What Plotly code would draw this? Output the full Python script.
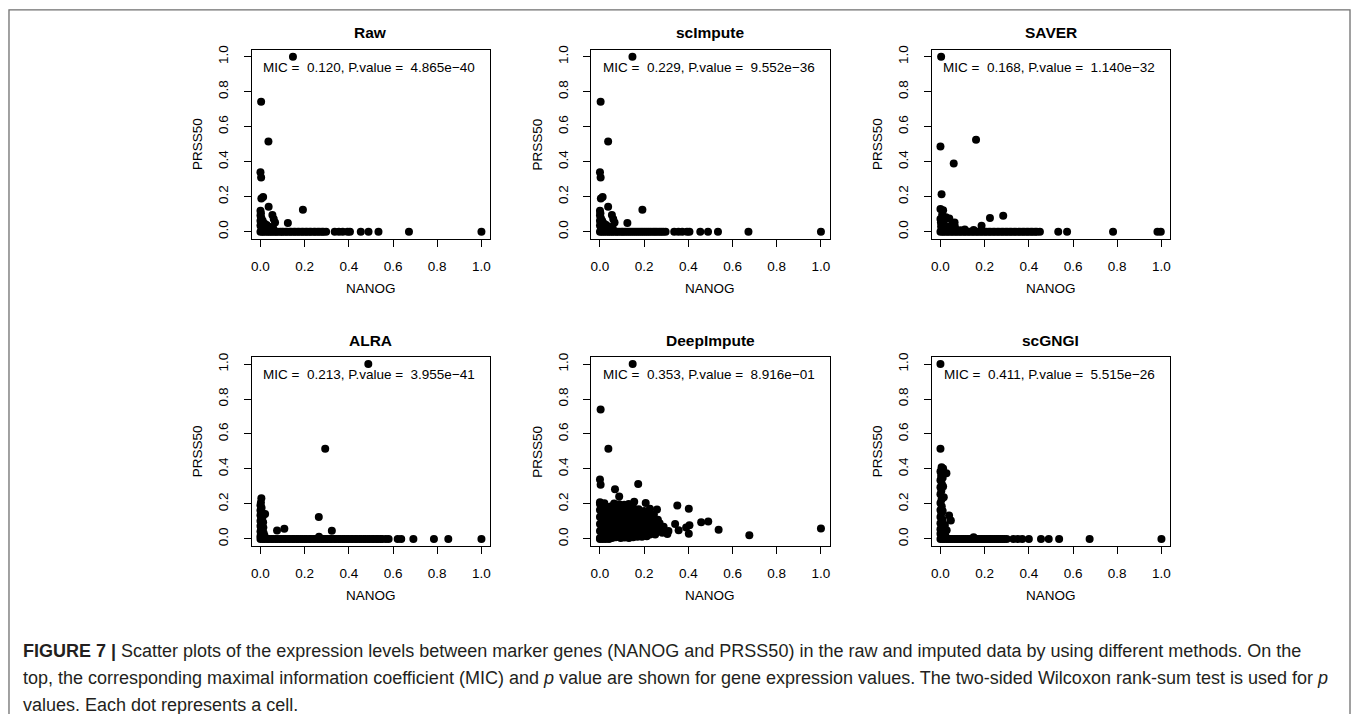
import plotly.graph_objects as go

FONT = "Liberation Sans, Arial, Helvetica, sans-serif"

# ---- data -----------------------------------------------------------------
METHODS = ["Raw", "scImpute", "SAVER", "ALRA", "DeepImpute", "scGNGI"]
MIC = ["0.120", "0.229", "0.168", "0.213", "0.353", "0.411"]
P_VALUES = ["4.865e\u221240", "9.552e\u221236", "1.140e\u221232",
            "3.955e\u221241", "8.916e\u221201", "5.515e\u221226"]
TICKS = [0.0, 0.2, 0.4, 0.6, 0.8, 1.0]
TICK_LABELS = ["0.0", "0.2", "0.4", "0.6", "0.8", "1.0"]

# (NANOG, PRSS50) for cells with non-zero PRSS50
RAW_CELLS = [
    (0.147, 1.000), (0.003, 0.742), (0.036, 0.515), (0.000, 0.340), (0.003, 0.310),
    (0.004, 0.190), (0.012, 0.198), (0.037, 0.142), (0.000, 0.120), (0.192, 0.125),
    (0.054, 0.095), (0.060, 0.072), (0.066, 0.052), (0.124, 0.049),
    (0.000, 0.092), (0.004, 0.078), (0.000, 0.062), (0.008, 0.050), (0.013, 0.040),
    (0.021, 0.030), (0.031, 0.021), (0.000, 0.036), (0.005, 0.024), (0.016, 0.013),
    (0.045, 0.014), (0.010, 0.062), (0.019, 0.046), (0.028, 0.038), (0.040, 0.028),
    (0.058, 0.018), (0.009, 0.010), (0.002, 0.105),
]
# NANOG for cells whose PRSS50 is zero
RAW_ZERO = [
    0.000, 0.009, 0.016, 0.027, 0.035, 0.044, 0.052, 0.061, 0.070, 0.077, 0.088,
    0.096, 0.103, 0.114, 0.121, 0.132, 0.139, 0.150, 0.157, 0.168, 0.175, 0.186,
    0.193, 0.204, 0.211, 0.222, 0.229, 0.241, 0.248, 0.259, 0.267, 0.278, 0.285,
    0.297, 0.336, 0.355, 0.372, 0.394, 0.405, 0.454, 0.489, 0.534, 0.672, 1.000,
]

SCIMPUTE_CELLS = [
    (0.147, 1.000), (0.003, 0.742), (0.037, 0.515), (0.000, 0.340), (0.003, 0.310),
    (0.004, 0.190), (0.012, 0.198), (0.037, 0.142), (0.000, 0.120), (0.192, 0.125),
    (0.054, 0.095), (0.060, 0.072), (0.066, 0.052), (0.124, 0.049),
    (0.000, 0.092), (0.004, 0.078), (0.000, 0.062), (0.008, 0.050), (0.013, 0.040),
    (0.021, 0.030), (0.031, 0.021), (0.000, 0.036), (0.005, 0.024), (0.016, 0.013),
    (0.045, 0.014), (0.010, 0.062), (0.019, 0.046), (0.028, 0.038), (0.040, 0.028),
    (0.058, 0.018), (0.009, 0.010), (0.002, 0.105),
]
SCIMPUTE_ZERO = [
    0.000, 0.008, 0.017, 0.026, 0.036, 0.043, 0.053, 0.060, 0.071, 0.078, 0.087,
    0.097, 0.104, 0.113, 0.122, 0.131, 0.140, 0.149, 0.158, 0.167, 0.176, 0.185,
    0.194, 0.203, 0.212, 0.221, 0.230, 0.240, 0.249, 0.258, 0.268, 0.277, 0.286,
    0.297, 0.336, 0.355, 0.372, 0.394, 0.405, 0.454, 0.489, 0.534, 0.672, 1.000,
]

SAVER_CELLS = [
    (0.003, 1.000), (0.000, 0.487), (0.161, 0.525), (0.060, 0.390), (0.005, 0.214),
    (0.000, 0.130), (0.012, 0.122), (0.224, 0.078), (0.284, 0.091), (0.186, 0.034),
    (0.040, 0.075), (0.064, 0.052), (0.000, 0.072), (0.002, 0.052), (0.012, 0.062),
    (0.008, 0.100), (0.020, 0.036), (0.046, 0.030), (0.030, 0.016), (0.056, 0.022),
    (0.072, 0.010), (0.110, 0.012), (0.150, 0.010), (0.003, 0.030), (0.006, 0.015),
    (0.010, 0.085), (0.025, 0.082), (0.052, 0.040), (0.065, 0.030), (0.090, 0.008),
    (0.017, 0.024),
]
SAVER_ZERO = [
    0.000, 0.010, 0.018, 0.029, 0.037, 0.048, 0.056, 0.067, 0.075, 0.086, 0.094,
    0.105, 0.113, 0.124, 0.132, 0.143, 0.151, 0.162, 0.170, 0.181, 0.189, 0.200,
    0.208, 0.219, 0.227, 0.238, 0.246, 0.257, 0.265, 0.276, 0.284, 0.295, 0.303,
    0.314, 0.322, 0.333, 0.341, 0.352, 0.360, 0.371, 0.379, 0.390, 0.398, 0.409,
    0.417, 0.428, 0.436, 0.450, 0.533, 0.573, 0.781, 0.982, 0.997,
]

ALRA_CELLS = [
    (0.488, 1.000), (0.293, 0.515), (0.264, 0.125), (0.323, 0.047), (0.075, 0.048),
    (0.108, 0.059), (0.004, 0.233), (0.000, 0.192), (0.005, 0.178), (0.000, 0.163),
    (0.007, 0.150), (0.021, 0.142), (0.000, 0.135), (0.004, 0.118), (0.010, 0.128),
    (0.000, 0.102), (0.006, 0.088), (0.012, 0.095), (0.000, 0.074), (0.004, 0.058),
    (0.013, 0.066), (0.000, 0.043), (0.006, 0.030), (0.014, 0.036), (0.000, 0.016),
    (0.010, 0.012), (0.018, 0.020), (0.265, 0.012), (0.002, 0.208),
]
ALRA_ZERO = [
    0.000, 0.011, 0.019, 0.030, 0.038, 0.049, 0.057, 0.068, 0.076, 0.087, 0.095,
    0.106, 0.114, 0.125, 0.133, 0.144, 0.152, 0.163, 0.171, 0.182, 0.190, 0.201,
    0.209, 0.220, 0.228, 0.239, 0.247, 0.258, 0.266, 0.277, 0.285, 0.296, 0.304,
    0.315, 0.323, 0.334, 0.342, 0.353, 0.361, 0.372, 0.380, 0.391, 0.399, 0.410,
    0.418, 0.429, 0.437, 0.448, 0.456, 0.467, 0.475, 0.486, 0.494, 0.505, 0.513,
    0.524, 0.532, 0.543, 0.551, 0.567, 0.580, 0.621, 0.637, 0.692, 0.785, 0.850,
    1.000,
]

DEEPIMPUTE_CELLS = [
    # isolated cells
    (0.148, 1.000), (0.003, 0.740), (0.038, 0.515), (0.000, 0.340), (0.003, 0.310),
    (0.173, 0.314), (0.068, 0.284), (0.087, 0.242), (0.000, 0.210), (0.350, 0.191),
    (0.402, 0.172), (0.207, 0.205), (0.458, 0.095), (0.490, 0.100), (0.537, 0.053),
    (0.676, 0.021), (1.000, 0.060), (0.340, 0.085), (0.356, 0.050), (0.390, 0.065),
    (0.402, 0.030), (0.405, 0.078), (0.270, 0.090), (0.288, 0.070), (0.310, 0.045),
    (0.305, 0.028), (0.282, 0.035), (0.262, 0.110), (0.244, 0.140), (0.130, 0.200),
    (0.155, 0.212), (0.226, 0.172), (0.258, 0.168), (0.162, 0.152),
    (0.178, 0.128), (0.190, 0.146), (0.175, 0.170), (0.200, 0.160), (0.240, 0.120),
    (0.250, 0.095), (0.280, 0.055), (0.265, 0.075), (0.230, 0.035), (0.250, 0.025),
    (0.190, 0.012), (0.212, 0.015), (0.150, 0.180), (0.110, 0.195),
    # dense cluster near the origin
    (0.000, 0.006), (0.018, 0.004), (0.037, 0.008), (0.055, 0.005), (0.072, 0.009),
    (0.094, 0.006), (0.112, 0.008), (0.131, 0.005), (0.150, 0.009), (0.170, 0.012),
    (0.010, 0.026), (0.030, 0.024), (0.048, 0.027), (0.066, 0.023), (0.083, 0.026),
    (0.104, 0.025), (0.122, 0.022), (0.141, 0.027), (0.162, 0.024), (0.183, 0.021),
    (0.205, 0.028), (0.226, 0.025),
    (0.000, 0.046), (0.021, 0.044), (0.040, 0.047), (0.058, 0.043), (0.077, 0.045),
    (0.095, 0.048), (0.116, 0.044), (0.134, 0.046), (0.153, 0.043), (0.174, 0.047),
    (0.195, 0.045), (0.214, 0.042), (0.236, 0.046), (0.257, 0.044), (0.276, 0.047),
    (0.294, 0.043),
    (0.008, 0.066), (0.028, 0.064), (0.046, 0.067), (0.067, 0.065), (0.086, 0.063),
    (0.107, 0.066), (0.125, 0.068), (0.146, 0.064), (0.166, 0.066), (0.185, 0.063),
    (0.204, 0.067), (0.225, 0.065), (0.247, 0.068), (0.268, 0.064),
    (0.000, 0.086), (0.019, 0.084), (0.038, 0.087), (0.057, 0.085), (0.078, 0.083),
    (0.096, 0.086), (0.117, 0.088), (0.137, 0.084), (0.157, 0.086), (0.176, 0.083),
    (0.197, 0.087), (0.218, 0.085), (0.240, 0.088),
    (0.010, 0.106), (0.030, 0.104), (0.049, 0.107), (0.068, 0.105), (0.088, 0.103),
    (0.108, 0.106), (0.127, 0.108), (0.148, 0.104), (0.168, 0.106), (0.190, 0.103),
    (0.212, 0.107), (0.235, 0.105), (0.254, 0.108),
    (0.000, 0.126), (0.020, 0.124), (0.040, 0.127), (0.059, 0.125), (0.079, 0.123),
    (0.098, 0.126), (0.118, 0.128), (0.139, 0.124), (0.158, 0.126), (0.200, 0.128),
    (0.226, 0.124),
    (0.008, 0.146), (0.028, 0.144), (0.050, 0.147), (0.070, 0.145), (0.090, 0.143),
    (0.110, 0.146), (0.130, 0.148), (0.214, 0.145),
    (0.000, 0.166), (0.018, 0.164), (0.040, 0.167), (0.061, 0.165), (0.080, 0.163),
    (0.100, 0.166), (0.121, 0.168), (0.142, 0.164),
    (0.006, 0.186), (0.030, 0.184), (0.052, 0.187), (0.074, 0.185), (0.097, 0.183),
    (0.118, 0.186), (0.138, 0.184),
    (0.000, 0.200), (0.020, 0.204), (0.064, 0.203), (0.087, 0.198),
]
DEEPIMPUTE_ZERO = [0.000, 0.012, 0.026, 0.041]

SCGNGI_CELLS = [
    (0.000, 1.000), (0.000, 0.515), (0.005, 0.410), (0.012, 0.402), (0.000, 0.385),
    (0.027, 0.375), (0.003, 0.360), (0.000, 0.335), (0.006, 0.315), (0.000, 0.295),
    (0.004, 0.275), (0.000, 0.255), (0.015, 0.239), (0.005, 0.225), (0.000, 0.205),
    (0.006, 0.185), (0.000, 0.165), (0.004, 0.145), (0.039, 0.134), (0.000, 0.125),
    (0.010, 0.110), (0.047, 0.106), (0.000, 0.090), (0.006, 0.072), (0.020, 0.080),
    (0.000, 0.055), (0.012, 0.045), (0.028, 0.050), (0.000, 0.030), (0.008, 0.018),
    (0.022, 0.020), (0.150, 0.010), (0.010, 0.160), (0.012, 0.300), (0.010, 0.350),
]
SCGNGI_ZERO = [
    0.000, 0.009, 0.017, 0.028, 0.036, 0.045, 0.053, 0.062, 0.071, 0.079, 0.088,
    0.097, 0.105, 0.114, 0.123, 0.131, 0.140, 0.149, 0.158, 0.166, 0.175, 0.184,
    0.192, 0.201, 0.210, 0.219, 0.227, 0.236, 0.245, 0.254, 0.262, 0.271, 0.280,
    0.289, 0.300, 0.330, 0.350, 0.370, 0.400, 0.455, 0.490, 0.537, 0.675, 1.000,
]

PANEL_CELLS = [RAW_CELLS, SCIMPUTE_CELLS, SAVER_CELLS, ALRA_CELLS,
               DEEPIMPUTE_CELLS, SCGNGI_CELLS]
PANEL_ZERO = [RAW_ZERO, SCIMPUTE_ZERO, SAVER_ZERO, ALRA_ZERO,
              DEEPIMPUTE_ZERO, SCGNGI_ZERO]

CAPTION = [
    "<b>FIGURE 7 |</b> Scatter plots of the expression levels between marker genes "
    "(NANOG and PRSS50) in the raw and imputed data by using different methods. On the",
    "top, the corresponding maximal information coefficient (MIC) and <i>p</i> value "
    "are shown for gene expression values. The two-sided Wilcoxon rank-sum test is used for <i>p</i>",
    "values. Each dot represents a cell.",
]

# ---- layout (pixels) ------------------------------------------------------
W, H = 1356, 714
COL_LEFT = [251, 591, 932]
BOX_W = 239
ROW_TOP = [46, 355]
BOX_H = 190


def px(x):
    return x / W


def py(y):
    return 1 - y / H


fig = go.Figure()
layout = dict(
    width=W, height=H, margin=dict(l=0, r=0, t=0, b=0),
    paper_bgcolor="white", plot_bgcolor="white", showlegend=False,
    font=dict(family=FONT, color="black"),
)
annotations = []

axis_common = dict(
    range=[-0.04, 1.04], tickvals=TICKS, ticktext=TICK_LABELS,
    ticks="outside", ticklen=7, tickwidth=1, tickcolor="black",
    showline=True, linecolor="black", linewidth=1, mirror=True,
    showgrid=False, zeroline=False, fixedrange=True,
    tickfont=dict(family=FONT, size=13.5, color="black"),
)

for i, name in enumerate(METHODS):
    r, c = divmod(i, 3)
    n = "" if i == 0 else str(i + 1)
    left, top = COL_LEFT[c], ROW_TOP[r]
    cells = PANEL_CELLS[i]
    zeros = PANEL_ZERO[i]
    xs = [p[0] for p in cells] + list(zeros)
    ys = [p[1] for p in cells] + [0.0] * len(zeros)
    fig.add_trace(go.Scatter(
        x=xs, y=ys, mode="markers", xaxis="x" + n, yaxis="y" + n,
        marker=dict(color="black", size=8, line=dict(width=0)),
        hoverinfo="skip",
    ))
    layout["xaxis" + n] = dict(
        axis_common, domain=[px(left), px(left + BOX_W)], anchor="y" + n,
        ticklabelstandoff=8,
    )
    layout["yaxis" + n] = dict(
        axis_common, domain=[py(top + BOX_H), py(top)], anchor="x" + n,
        tickangle=-90, ticklabelstandoff=10,
    )
    cx = left + BOX_W / 2
    # panel title
    annotations.append(dict(
        text="<b>%s</b>" % name, x=px(cx), y=py(top - 17), xref="paper", yref="paper",
        xanchor="center", yanchor="middle", showarrow=False,
        font=dict(family=FONT, size=15.5, color="black"),
    ))
    # MIC / p-value statement, right end just inside the box
    annotations.append(dict(
        text="MIC =\u00a0\u00a0%s, P.value =\u00a0\u00a0%s" % (MIC[i], P_VALUES[i]),
        x=px(left + BOX_W - 13), y=py(top + 18), xref="paper", yref="paper",
        xanchor="right", yanchor="middle", showarrow=False,
        font=dict(family=FONT, size=13.5, color="black"),
    ))
    # axis titles
    annotations.append(dict(
        text="NANOG", x=px(cx), y=py(top + BOX_H + 50), xref="paper", yref="paper",
        xanchor="center", yanchor="middle", showarrow=False,
        font=dict(family=FONT, size=13.5, color="black"),
    ))
    annotations.append(dict(
        text="PRSS50", x=px(left - 54), y=py(top + BOX_H / 2), xref="paper", yref="paper",
        xanchor="center", yanchor="middle", showarrow=False, textangle=-90,
        font=dict(family=FONT, size=13.5, color="black"),
    ))

for k, line in enumerate(CAPTION):
    annotations.append(dict(
        text=line, x=px(20), y=py(651 + 27 * k), xref="paper", yref="paper",
        xanchor="left", yanchor="middle", showarrow=False,
        font=dict(family=FONT, size=18, color="#231f20"),
    ))

# figure frame (open at the bottom)
frame = dict(type="path", xref="paper", yref="paper",
             path="M %f,-0.05 L %f,%f L %f,%f L %f,-0.05" % (
                 px(8), px(8), py(6), px(1351), py(6), px(1351)),
             line=dict(color="#6f6f6f", width=1.3))

layout["annotations"] = annotations
layout["shapes"] = [frame]
fig.update_layout(**layout)

fig.write_html("out.html")
